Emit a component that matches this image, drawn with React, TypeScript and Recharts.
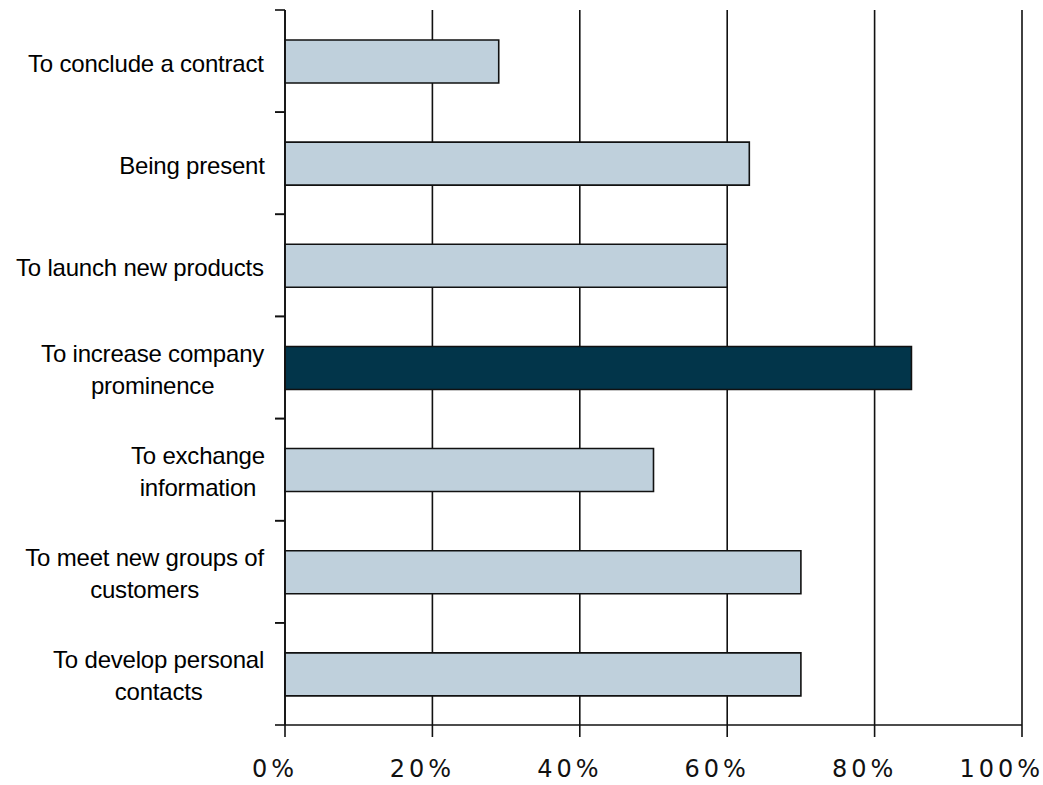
import React from "react";
import { BarChart, Bar, XAxis, YAxis, CartesianGrid, Cell } from "recharts";

const categoryLines: string[][] = [
  ["To conclude a contract"],
  ["Being present"],
  ["To launch new products"],
  ["To increase company", "prominence"],
  ["To exchange", "information"],
  ["To meet new groups of", "customers"],
  ["To develop personal", "contacts"],
];
const categories: string[] = categoryLines.map((l) => l.join(" "));
const values: number[] = [29, 63, 60, 85, 50, 70, 70];
const highlighted: string[] = ["To increase company prominence"];
const xTicks: number[] = [0, 20, 40, 60, 80, 100];

const W = 1043;
const H = 785;
const LIGHT = "#BFD0DC";
const DARK = "#02354A";
const LABEL_FONT = "24px 'Liberation Sans', Arial, sans-serif";
const XFONT_SIZE = 24;
const XFONT = `${XFONT_SIZE}px 'DejaVu Sans', Verdana, sans-serif`;
const X_LETTER = 4;

const data = categories.map((name, i) => ({ name, value: values[i], lines: categoryLines[i] }));

let ctx: CanvasRenderingContext2D | null = null;
function measure(text: string, font: string): number {
  if (!ctx) {
    const c = document.createElement("canvas");
    ctx = c.getContext("2d");
  }
  if (!ctx) return text.length * 11;
  ctx.font = font;
  return ctx.measureText(text).width;
}

const YTick = (props: any) => {
  const { x, y, payload } = props;
  const idx = categories.indexOf(payload.value);
  const lines = idx >= 0 ? categoryLines[idx] : [String(payload.value)];
  const half = payload.offset && payload.offset > 0 ? payload.offset : 715 / (2 * categories.length);
  const widths = lines.map((l) => measure(l, LABEL_FONT));
  const maxW = Math.max(...widths);
  const right = x - 19;
  const cx = right - maxW / 2;
  const lineH = 32;
  const cap = 17;
  const block = (lines.length - 1) * lineH + cap;
  const firstBase = y + 2 - block / 2 + cap;
  return (
    <g>
      <line x1={x - 10} x2={x} y1={y - half} y2={y - half} stroke="#111" strokeWidth={1.6} />
      <line x1={x - 10} x2={x} y1={y + half} y2={y + half} stroke="#111" strokeWidth={1.6} />
      {lines.map((l, i) => (
        <text
          key={i}
          x={cx}
          y={firstBase + i * lineH}
          textAnchor="middle"
          fill="#000"
          style={{ font: LABEL_FONT, letterSpacing: "-0.2px" }}
        >
          {l}
        </text>
      ))}
    </g>
  );
};

const XTick = (props: any) => {
  const { x, y, payload } = props;
  const label = `${payload.value}%`;
  const w = measure(label, XFONT) + (label.length - 1) * X_LETTER;
  let cx = x - 12;
  if (cx + w / 2 > W - 3) cx = W - 3 - w / 2;
  return (
    <text
      x={cx - w / 2}
      y={y + 40}
      textAnchor="start"
      fill="#111"
      style={{ font: XFONT, letterSpacing: `${X_LETTER}px` }}
    >
      {label}
    </text>
  );
};

export default function App() {
  return (
    <div style={{ position: "absolute", left: 0, top: 0, width: W, height: H, background: "#fff" }}>
      <BarChart
        width={W}
        height={H}
        data={data}
        layout="vertical"
        margin={{ top: 10, right: 21, bottom: 0, left: 0 }}
      >
        <CartesianGrid horizontal={false} vertical={true} stroke="#111" strokeWidth={1.6} />
        <XAxis
          type="number"
          domain={[0, 100]}
          ticks={xTicks}
          height={60}
          tickSize={12}
          tickMargin={0}
          axisLine={{ stroke: "#111", strokeWidth: 1.6 }}
          tickLine={{ stroke: "#111", strokeWidth: 1.6 }}
          tick={<XTick />}
          interval={0}
        />
        <YAxis
          type="category"
          dataKey="name"
          width={285}
          tickSize={0}
          tickMargin={0}
          tickLine={false}
          axisLine={{ stroke: "#111", strokeWidth: 1.6 }}
          tick={<YTick />}
          interval={0}
        />
        <Bar dataKey="value" barSize={43} stroke="#111" strokeWidth={1.6} isAnimationActive={false}>
          {data.map((d, i) => (
            <Cell key={i} fill={highlighted.includes(d.name) ? DARK : LIGHT} />
          ))}
        </Bar>
      </BarChart>
    </div>
  );
}
